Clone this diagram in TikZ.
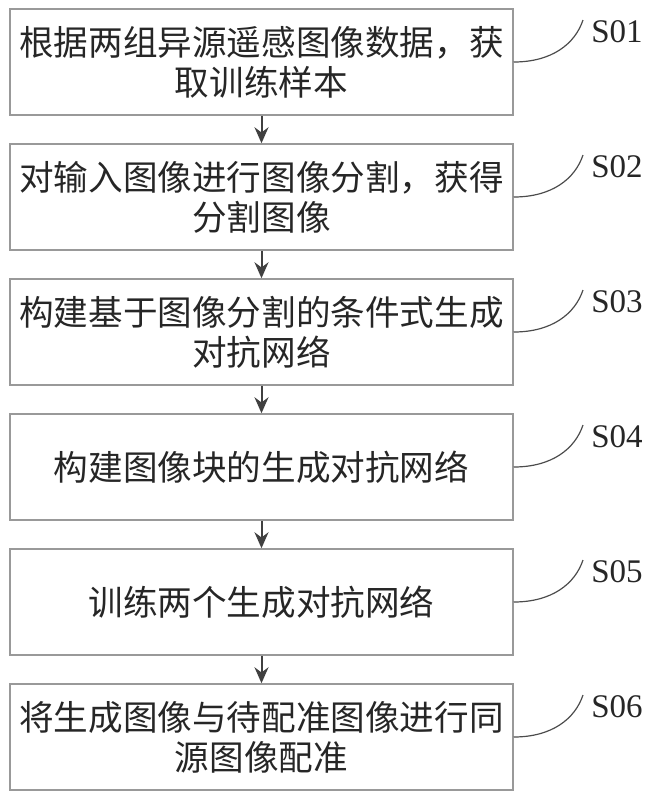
\documentclass[tikz,border=0pt]{standalone}
\usepackage{fontspec}
\setmainfont{Liberation Serif}
\newfontfamily\cjk{Noto Sans CJK SC}
\usetikzlibrary{arrows.meta}

\begin{document}
\begin{tikzpicture}
[x=0.5pt,y=-0.5pt,
  stepbox/.style={shape=rectangle,draw=black!40,line width=0.75pt,
    minimum width=251.5pt,minimum height=53pt,inner sep=0pt,align=center,
    font=\cjk\fontsize{17.3}{20}\selectfont,text=black!85},%
  arrowdecorate/.style={-{Stealth[length=8pt,width=7pt]},draw=black!75,line width=1pt},%
  labeldecorate/.style={draw=black!70,line width=0.6pt},%
  labeltext/.style={anchor=base west,inner sep=0pt,font=\fontsize{16.5}{18}\selectfont,text=black!85}]
\useasboundingbox (0,0) rectangle (654,800);
%% step boxes with their labels
\foreach \nodename/\y/\steptext/\steplabel in {
  s1/62/{根据两组异源遥感图像数据，获\\取训练样本}/S01,
  s2/197/{对输入图像进行图像分割，获得\\分割图像}/S02,
  s3/332/{构建基于图像分割的条件式生成\\对抗网络}/S03,
  s4/467/{构建图像块的生成对抗网络}/S04,
  s5/602/{训练两个生成对抗网络}/S05,
  s6/737/{将生成图像与待配准图像进行同\\源图像配准}/S06} {
  \node (\nodename) at (261.5,\y) [stepbox] {\steptext};
  \coordinate (\nodename-tip) at (583,{\y-42});
  \draw [labeldecorate] (\nodename.east) .. controls +(38,0) and +(-8,24) .. (\nodename-tip);
  \node (\nodename-label) at (591,{\y-20}) [labeltext] {\steplabel};
}
%% arrows between steps
\path
\foreach \startnode/\endnode in {s1/s2, s2/s3, s3/s4, s4/s5, s5/s6} {
  (\startnode) edge[arrowdecorate] (\endnode)
};
\end{tikzpicture}
\end{document}
